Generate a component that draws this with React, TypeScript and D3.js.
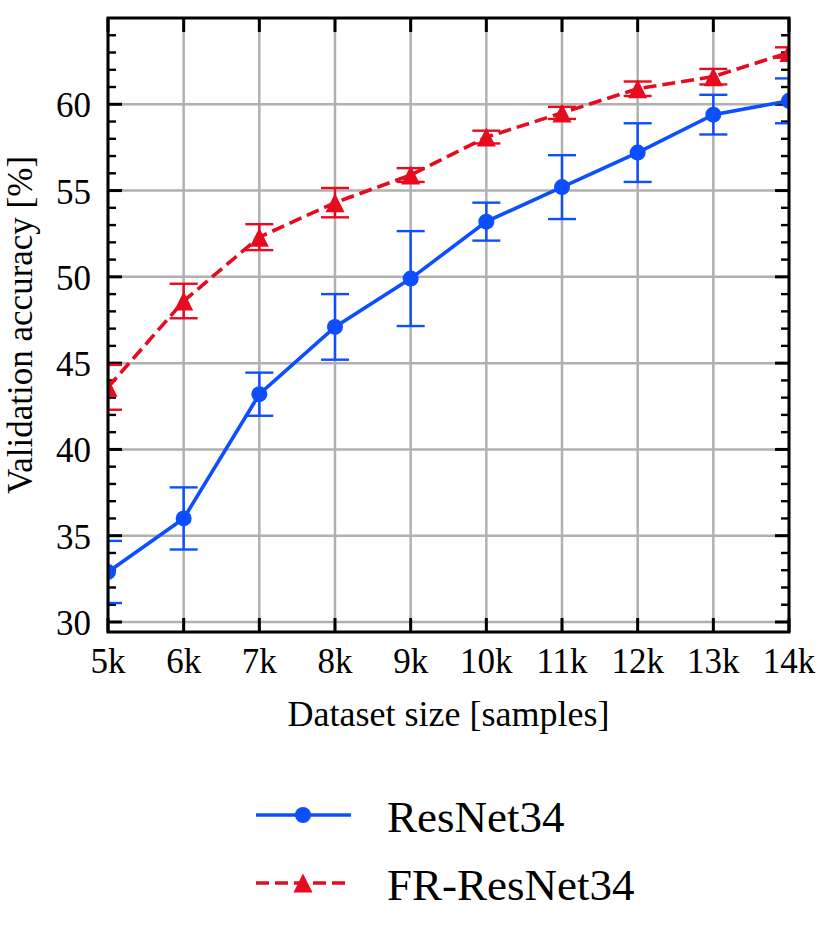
import React from "react";
import * as d3 from "d3";

// dataset sizes in thousands of samples
const sizes = [5, 6, 7, 8, 9, 10, 11, 12, 13, 14];
const xTickLabels = ["5k", "6k", "7k", "8k", "9k", "10k", "11k", "12k", "13k", "14k"];

const resnetMean = [32.9, 36.0, 43.2, 47.1, 49.9, 53.2, 55.2, 57.2, 59.4, 60.2];
const resnetErr = [1.8, 1.8, 1.25, 1.9, 2.75, 1.1, 1.85, 1.7, 1.15, 1.3];

const frMean = [43.6, 48.6, 52.3, 54.3, 55.9, 58.1, 59.5, 60.9, 61.6, 63.0];
const frErr = [1.3, 1.0, 0.75, 0.85, 0.4, 0.37, 0.35, 0.42, 0.45, 0.3];

const yTicks = [30, 35, 40, 45, 50, 55, 60];

const W = 830;
const H = 930;
const left = 108;
const right = 789;
const top = 18;
const bottom = 632;

const BLUE = "#0d4fff";
const RED = "#e60b1f";
const FONT = "'Liberation Serif', 'Times New Roman', serif";

const x = d3.scaleLinear().domain([5, 14]).range([left, right]);
const y = d3.scaleLinear().domain([29.42, 65]).range([bottom, top]);

const line = d3
    .line<number>()
    .x((_, i) => x(sizes[i]))
    .y((d) => y(d));

const triangle = (cx: number, cy: number, s: number) =>
    `M${cx},${cy - s} L${cx + s},${cy + s} L${cx - s},${cy + s} Z`;

const ErrorBars = ({ mean, err, color }: { mean: number[]; err: number[]; color: string }) => (
    <g stroke={color} strokeWidth={2.4}>
        {mean.map((m, i) => {
            const cx = x(sizes[i]);
            const y0 = y(m - err[i]);
            const y1 = y(m + err[i]);
            return (
                <g key={i}>
                    <line x1={cx} x2={cx} y1={y0} y2={y1} />
                    <line x1={cx - 14} x2={cx + 14} y1={y0} y2={y0} />
                    <line x1={cx - 14} x2={cx + 14} y1={y1} y2={y1} />
                </g>
            );
        })}
    </g>
);

const App = () => {
    const minorTicks = d3.range(30, 65, 1).filter((v) => v % 5 !== 0);
    return (
        <svg
            width={W}
            height={H}
            viewBox={`0 0 ${W} ${H}`}
            style={{ position: "absolute", left: 0, top: 0, background: "#fff" }}
            fontFamily={FONT}
        >
            <defs>
                <clipPath id="plot">
                    <rect x={left} y={top} width={right - left} height={bottom - top} />
                </clipPath>
            </defs>

            {/* grid */}
            <g stroke="#b0b0b0" strokeWidth={2.5}>
                {sizes.map((s) => (
                    <line key={s} x1={x(s)} x2={x(s)} y1={top} y2={bottom} />
                ))}
                {yTicks.map((t) => (
                    <line key={t} x1={left} x2={right} y1={y(t)} y2={y(t)} />
                ))}
            </g>

            {/* ticks, pointing inward */}
            <g stroke="#000" strokeWidth={3}>
                {sizes.map((s) => (
                    <g key={s}>
                        <line x1={x(s)} x2={x(s)} y1={bottom} y2={bottom - 14} />
                        <line x1={x(s)} x2={x(s)} y1={top} y2={top + 14} />
                    </g>
                ))}
                {yTicks.map((t) => (
                    <g key={t}>
                        <line x1={left} x2={left + 14} y1={y(t)} y2={y(t)} />
                        <line x1={right} x2={right - 14} y1={y(t)} y2={y(t)} />
                    </g>
                ))}
            </g>
            <g stroke="#000" strokeWidth={2.4}>
                {minorTicks.map((t) => (
                    <g key={t}>
                        <line x1={left} x2={left + 8} y1={y(t)} y2={y(t)} />
                        <line x1={right} x2={right - 8} y1={y(t)} y2={y(t)} />
                    </g>
                ))}
            </g>

            {/* series */}
            <g clipPath="url(#plot)">
                <path d={line(resnetMean) ?? ""} fill="none" stroke={BLUE} strokeWidth={3.6} />
                <ErrorBars mean={resnetMean} err={resnetErr} color={BLUE} />
                {resnetMean.map((m, i) => (
                    <circle key={i} cx={x(sizes[i])} cy={y(m)} r={8} fill={BLUE} />
                ))}

                <path
                    d={line(frMean) ?? ""}
                    fill="none"
                    stroke={RED}
                    strokeWidth={3.6}
                    strokeDasharray="13 6"
                />
                <ErrorBars mean={frMean} err={frErr} color={RED} />
                {frMean.map((m, i) => (
                    <path key={i} d={triangle(x(sizes[i]), y(m), 9.5)} fill={RED} />
                ))}
            </g>

            {/* frame */}
            <rect
                x={left}
                y={top}
                width={right - left}
                height={bottom - top}
                fill="none"
                stroke="#000"
                strokeWidth={3}
            />

            {/* tick labels */}
            <g fontSize={35} fill="#000">
                {sizes.map((s, i) => (
                    <text key={s} x={x(s)} y={673} textAnchor="middle">
                        {xTickLabels[i]}
                    </text>
                ))}
                {yTicks.map((t) => (
                    <text key={t} x={91} y={y(t) + 13} textAnchor="end">
                        {t}
                    </text>
                ))}
            </g>

            {/* axis labels */}
            <text x={(left + right) / 2} y={726} textAnchor="middle" fontSize={36}>
                Dataset size [samples]
            </text>
            <text
                transform={`translate(32,${(top + bottom) / 2}) rotate(-90)`}
                textAnchor="middle"
                fontSize={35}
            >
                Validation accuracy [%]
            </text>

            {/* legend */}
            <g>
                <line x1={256} x2={351} y1={815} y2={815} stroke={BLUE} strokeWidth={3.6} />
                <circle cx={303} cy={815} r={8} fill={BLUE} />
                <text x={387} y={832} fontSize={45}>
                    ResNet34
                </text>
                <line
                    x1={256}
                    x2={351}
                    y1={883}
                    y2={883}
                    stroke={RED}
                    strokeWidth={3.6}
                    strokeDasharray="13 6"
                />
                <path d={triangle(303, 883, 9.5)} fill={RED} />
                <text x={387} y={900} fontSize={45}>
                    FR-ResNet34
                </text>
            </g>
        </svg>
    );
};

export default App;
